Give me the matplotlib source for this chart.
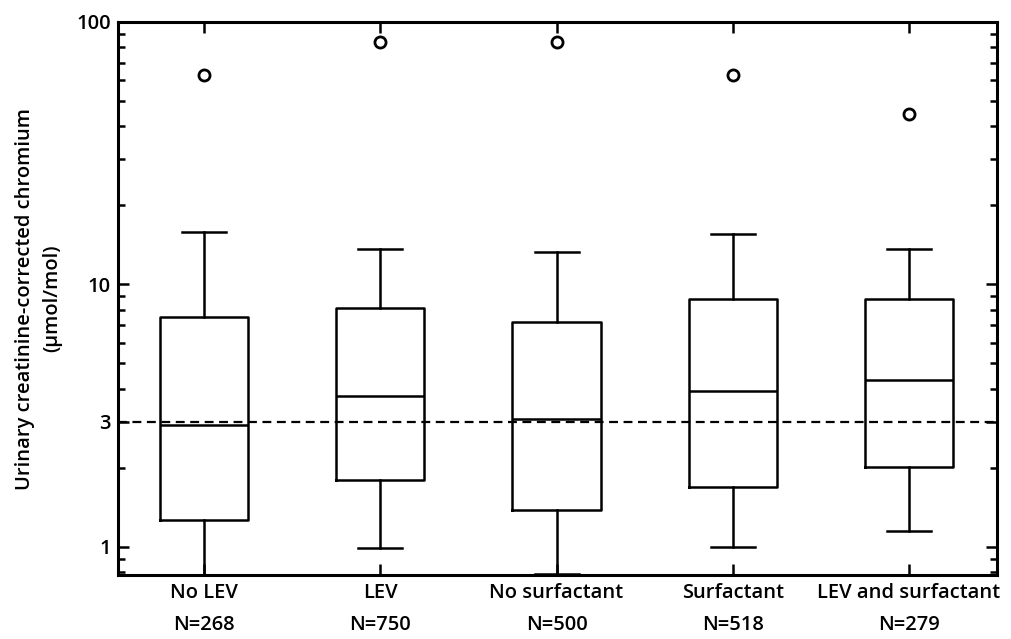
import matplotlib
matplotlib.use("Agg")
import matplotlib.pyplot as plt
from matplotlib.ticker import FixedLocator, LogLocator, NullFormatter, FixedFormatter

categories = ["No LEV", "LEV", "No surfactant", "Surfactant", "LEV and surfactant"]
n_labels = ["N=268", "N=750", "N=500", "N=518", "N=279"]
whislo = [0.70, 0.99, 0.79, 1.00, 1.15]
q1 = [1.27, 1.80, 1.38, 1.69, 2.02]
med = [2.92, 3.74, 3.08, 3.94, 4.34]
q3 = [7.5, 8.1, 7.16, 8.77, 8.8]
whishi = [15.8, 13.6, 13.3, 15.5, 13.6]
outliers = [[63], [84], [84], [63], [44.6]]
threshold = 3
yticks = [1, 3, 10, 100]
ytick_labels = ["1", "3", "10", "100"]

plt.rcParams['font.family'] = ['Open Sans', 'DejaVu Sans']

fig = plt.figure(figsize=(10.12, 6.39), dpi=100)
ax = fig.add_axes([0.1166, 0.100, 0.8684, 0.8656])

stats = []
for i in range(len(categories)):
    stats.append(dict(whislo=whislo[i], q1=q1[i], med=med[i], q3=q3[i],
                      whishi=whishi[i], fliers=outliers[i], label=categories[i]))

lw = 1.8
ax.bxp(stats, positions=range(1, len(categories) + 1), widths=0.5,
       showfliers=True,
       boxprops=dict(color='black', linewidth=lw),
       medianprops=dict(color='black', linewidth=lw),
       whiskerprops=dict(color='black', linewidth=lw),
       capprops=dict(color='black', linewidth=lw),
       capwidths=0.25,
       flierprops=dict(marker='o', markersize=8, markerfacecolor='none',
                       markeredgecolor='black', markeredgewidth=2.0))

ax.axhline(threshold, color='black', linestyle=(0, (4, 2.5)), linewidth=1.6, zorder=3)

ax.set_yscale('log')
ax.set_ylim(0.78, 100)
ax.set_xlim(0.51, 5.50)

ax.yaxis.set_major_locator(FixedLocator(yticks))
ax.yaxis.set_major_formatter(FixedFormatter(ytick_labels))
ax.yaxis.set_minor_locator(LogLocator(base=10, subs=[2, 3, 4, 5, 6, 7, 8, 9]))
ax.yaxis.set_minor_formatter(NullFormatter())

fs = 14.5
ax.set_xticks(range(1, len(categories) + 1))
ax.set_xticklabels([c + "\n" + n for c, n in zip(categories, n_labels)],
                   linespacing=1.75, fontsize=fs, fontweight='semibold')

ax.tick_params(axis='x', which='major', pad=6)
ax.tick_params(axis='y', which='major', pad=5)
ax.tick_params(axis='both', which='major', direction='in', length=8, width=1.8,
               top=True, right=True, labelsize=fs)
ax.tick_params(axis='y', which='minor', direction='in', length=5, width=1.8,
               left=True, right=True)
for lab in ax.get_yticklabels():
    lab.set_fontweight('semibold')

for sp in ax.spines.values():
    sp.set_linewidth(2.2)

ax.set_ylabel("Urinary creatinine-corrected chromium\n(µmol/mol)", fontsize=14.5,
              fontweight='semibold', linespacing=1.5, labelpad=10)

fig.savefig("out.png", dpi=100)
